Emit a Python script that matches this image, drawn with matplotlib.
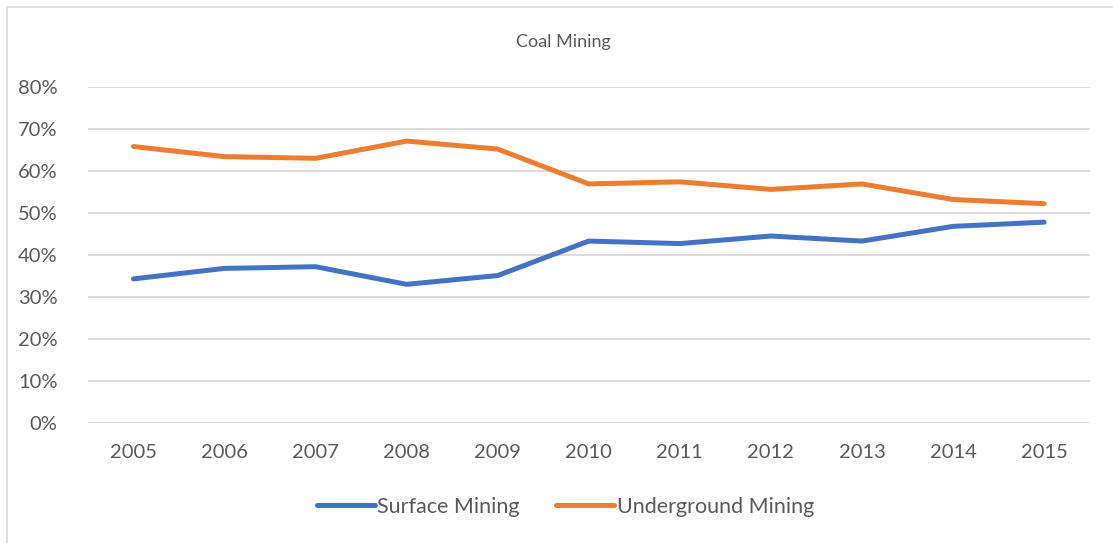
import matplotlib
matplotlib.use("Agg")
import matplotlib.pyplot as plt
from matplotlib.patches import Rectangle
from matplotlib.ticker import FuncFormatter

years = ["2005", "2006", "2007", "2008", "2009", "2010", "2011", "2012", "2013", "2014", "2015"]
surface = [34.3, 36.8, 37.2, 33.0, 35.1, 43.3, 42.7, 44.5, 43.3, 46.8, 47.8]
underground = [65.8, 63.4, 63.0, 67.1, 65.2, 56.9, 57.4, 55.6, 56.9, 53.2, 52.2]
yticks = [0, 10, 20, 30, 40, 50, 60, 70, 80]

plt.rcParams['font.family'] = ['Lato', 'DejaVu Sans']
text_color = "#595959"

fig = plt.figure(figsize=(11.13, 5.43), dpi=100)
fig.patches.append(Rectangle((0.006, -0.05), 1.1, 1.037, transform=fig.transFigure,
                             fill=False, edgecolor="#D9D9D9", linewidth=1.2))
ax = fig.add_axes([0.079, 0.221, 0.900, 0.619])

x = list(range(len(years)))
ax.plot(x, surface, color="#4472C4", linewidth=3.6, solid_capstyle="round",
        solid_joinstyle="round", label="Surface Mining")
ax.plot(x, underground, color="#ED7D31", linewidth=3.6, solid_capstyle="round",
        solid_joinstyle="round", label="Underground Mining")

ax.set_xlim(-0.5, len(years) - 0.5)
ax.set_ylim(0, 80)
ax.set_yticks(yticks)
ax.yaxis.set_major_formatter(FuncFormatter(lambda v, p: f"{int(v)}%"))
ax.set_xticks(x)
ax.set_xticklabels(years)
ax.grid(axis="y", color="#D9D9D9", linewidth=1.3)
ax.set_axisbelow(True)
for s in ax.spines.values():
    s.set_visible(False)
ax.tick_params(axis="both", length=0, labelsize=14.5, colors=text_color)
ax.tick_params(axis="x", pad=15)
ax.tick_params(axis="y", pad=22)

fig.text(0.506, 0.922, "Coal Mining", ha="center", va="center", fontsize=13, color=text_color)

leg = fig.legend(loc="center", bbox_to_anchor=(0.508, 0.067), ncol=2, frameon=False,
                 fontsize=15.5, handlelength=2.7, handletextpad=0.1, columnspacing=1.7)
for t in leg.get_texts():
    t.set_color(text_color)

fig.savefig("out.png", dpi=100)
